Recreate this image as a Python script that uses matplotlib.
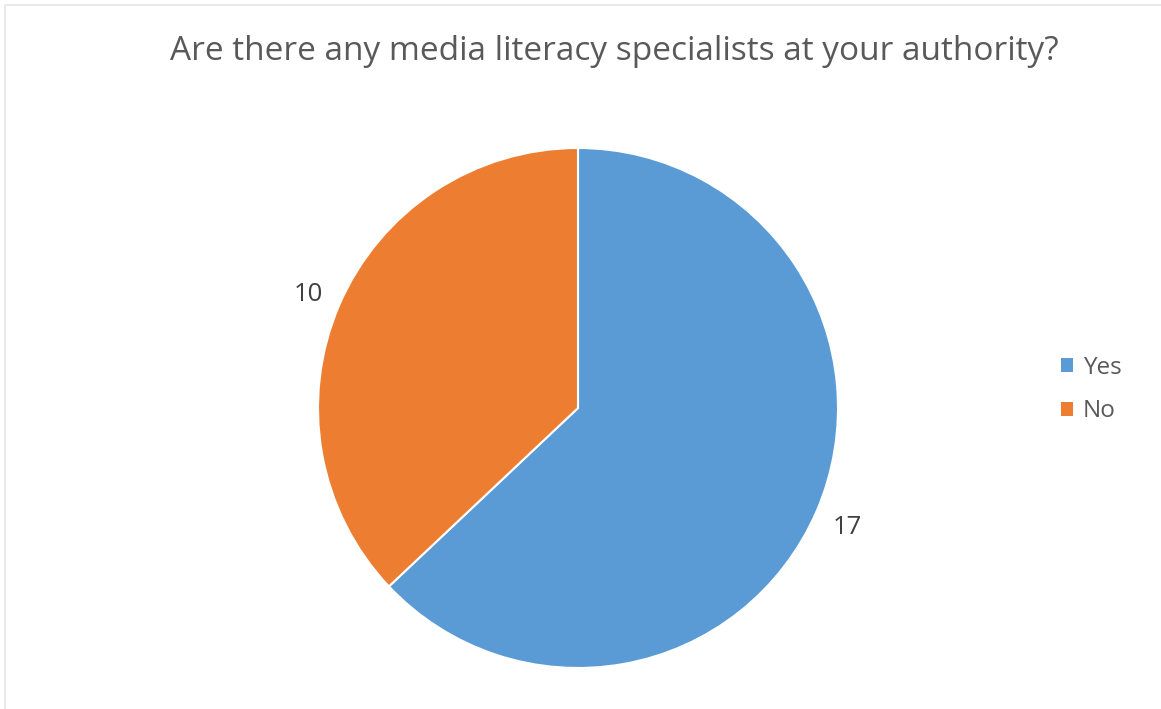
import numpy as np
import matplotlib
matplotlib.use("Agg")
import matplotlib.pyplot as plt
from matplotlib.patches import Rectangle, Patch

categories = ["Yes", "No"]
counts = [17, 10]
colors = ["#5B9BD5", "#ED7D31"]
title = "Are there any media literacy specialists at your authority?"

W, H = 1161, 709
fig = plt.figure(figsize=(W / 100, H / 100), dpi=100)
fig.patch.set_facecolor("white")

# light chart-area frame
fig.patches.append(Rectangle((5 / W, -0.01), (W - 4) / W, (H - 5) / H + 0.01,
                             transform=fig.transFigure, fill=False,
                             edgecolor="#e6e6e6", linewidth=1.2))

cx, cy, r = 578, 408, 260
ax = fig.add_axes([(cx - r) / W, (H - cy - r) / H, 2 * r / W, 2 * r / H])
wedges, _ = ax.pie(counts, colors=colors, startangle=90, counterclock=False,
                   radius=1.0,
                   wedgeprops=dict(edgecolor="white", linewidth=1.5))

# value labels outside each wedge, along its bisector
for w, c in zip(wedges, counts):
    mid = np.deg2rad((w.theta1 + w.theta2) / 2)
    x, y = 1.13 * np.cos(mid), 1.13 * np.sin(mid)
    ax.text(x, y - 0.036, str(c), ha="center", va="baseline",
            fontsize=18.5, color="#404040", family="Open Sans")

ax.set_xlim(-1, 1)
ax.set_ylim(-1, 1)
ax.set_aspect("equal")
ax.axis("off")

fig.text(614.5 / W, 1 - 60 / H, title, ha="center", va="baseline",
         fontsize=24, color="#595959", family="Open Sans")

handles = [Patch(facecolor=c, edgecolor="none") for c in colors]
fig.legend(handles, categories, loc="center left",
           bbox_to_anchor=(1061 / W, 1 - 389.5 / H), frameon=False,
           borderpad=0, borderaxespad=0,
           prop=dict(family="Open Sans", size=17.5), labelcolor="#595959",
           handlelength=0.49, handleheight=0.49, handletextpad=0.42,
           labelspacing=0.82)

fig.savefig("out.png", dpi=100, facecolor="white")
